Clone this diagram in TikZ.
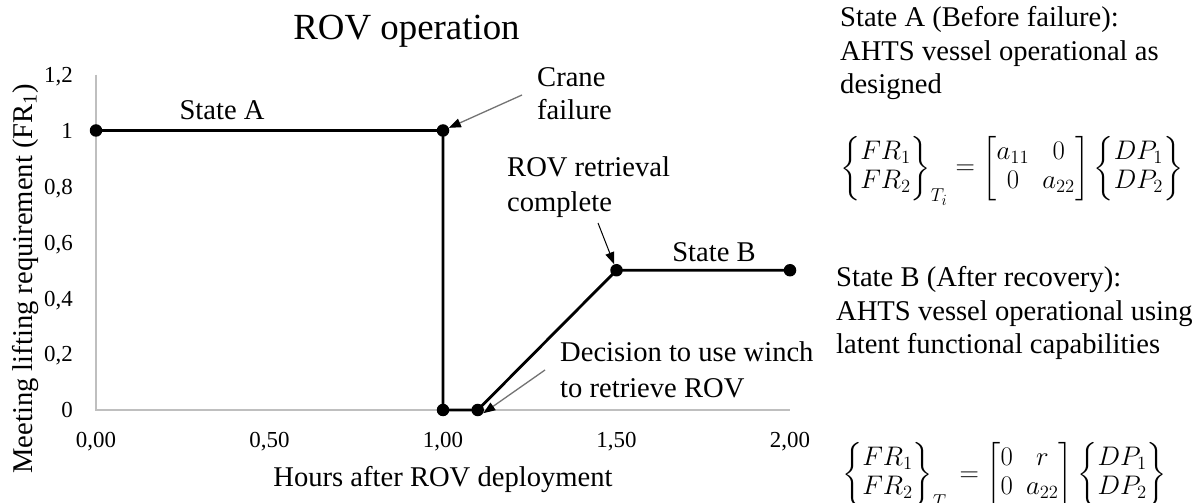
\documentclass[tikz,border=0pt]{standalone}
\usepackage{fontspec}
\setmainfont{Liberation Serif}
\usepackage{amsmath}
\usepackage{graphicx}
\usetikzlibrary{arrows.meta}
\newcommand{\eqscale}[1]{\scalebox{1.3}{\fontsize{20.74}{22.5}\selectfont\setlength{\arraycolsep}{5bp}\delimitershortfall=9pt #1}}
\begin{document}
\begin{tikzpicture}[x=1bp,y=-1bp,
  axisline/.style={draw=black!25, line width=1.3bp},
  dataline/.style={draw=black, line width=2.8bp, line join=miter},
  dot/.style={circle, fill=black, inner sep=0pt, minimum size=12.5bp},
  ticklbl/.style={font=\fontsize{23}{27}\selectfont, inner sep=0pt},
  lbl/.style={font=\fontsize{28.7}{34}\selectfont, inner sep=0pt},
  ttl/.style={font=\fontsize{37}{44}\selectfont, inner sep=0pt},
  eqn/.style={inner sep=0pt},
  grayarrow/.style={draw=black!55, line width=1.3bp, -{Triangle[length=12bp,width=9bp,color=black]}},
  blackarrow/.style={draw=black, line width=1bp, -{Triangle[length=12bp,width=9bp]}},
]
\fill[white] (0,0) rectangle (1203,503);
\useasboundingbox (0,0) rectangle (1203,503);

% axes
\coordinate (ytop) at (96,74.6);
\coordinate (orig) at (96,410);
\coordinate (xend) at (790,410);
\draw[axisline] (ytop) -- (orig) -- (xend);

% y tick labels
\foreach \v/\t [count=\i] in {0/0,0.2/{0,2},0.4/{0,4},0.6/{0,6},0.8/{0,8},1/1,1.2/{1,2}}
  \node[ticklbl, anchor=base east] (yt\i) at (73,{410-279.5*\v+7.8}) {\t};
% x tick labels
\foreach \h/\t [count=\i] in {0/{0,00},0.5/{0,50},1/{1,00},1.5/{1,50},2/{2,00}}
  \node[ticklbl, anchor=base] (xt\i) at ({96+347*\h},447) {\t};

% axis titles
\node[ttl, anchor=base] (title) at (406.5,40) {ROV operation};
\node[lbl, anchor=base] (xtitle) at (443,486) {Hours after ROV deployment};
\node[lbl, anchor=base, rotate=90] (ytitle) at (32,279) {Meeting lifting requirement (FR\textsubscript{1})};

% data
\node[dot] (p0) at (96,130.5) {};
\node[dot] (p1) at (443,130.5) {};
\node[dot] (p2) at (443,410) {};
\node[dot] (p3) at (477.7,410) {};
\node[dot] (p4) at (616.5,270.25) {};
\node[dot] (p5) at (790,270.25) {};
\draw[dataline] (p0.center) -- (p1.center) -- (p2.center) -- (p3.center) -- (p4.center) -- (p5.center);

% state labels
\node[lbl, anchor=base] (stA) at (222,120) {State A};
\node[lbl, anchor=base] (stB) at (714,262) {State B};

% annotations
\node[lbl, anchor=base west] (crane1) at (537,87) {Crane};
\node[lbl, anchor=base west] (crane2) at (537,120) {failure};
\coordinate (craneS) at (522,95);
\draw[grayarrow] (craneS) -- (p1);

\node[lbl, anchor=base west] (rov1) at (507,177) {ROV retrieval};
\node[lbl, anchor=base west] (rov2) at (507,212) {complete};
\coordinate (rovS) at (598,223);
\draw[blackarrow] (rovS) -- (p4);

\node[lbl, anchor=base west] (dec1) at (560,362) {Decision to use winch};
\node[lbl, anchor=base west] (dec2) at (560,397) {to retrieve ROV};
\coordinate (decS) at (545,370);
\draw[grayarrow] (decS) -- (p3.-30);

% right text
\node[lbl, anchor=base west] (sa1) at (840,27) {State A (Before failure):};
\node[lbl, anchor=base west] (sa2) at (840,61) {AHTS vessel operational as};
\node[lbl, anchor=base west] (sa3) at (840,94) {designed};
\node[eqn, anchor=base west] (eqA) at (840,175) {\eqscale{%
  $\left\{\begin{matrix}FR_1\\FR_2\end{matrix}\right\}_{T_i}=\begin{bmatrix}a_{11}&0\\0&a_{22}\end{bmatrix}\left\{\begin{matrix}DP_1\\DP_2\end{matrix}\right\}$}};

\node[lbl, anchor=base west] (sb1) at (836,287) {State B (After recovery):};
\node[lbl, anchor=base west] (sb2) at (836,321) {AHTS vessel operational using};
\node[lbl, anchor=base west] (sb3) at (836,354) {latent functional capabilities};
\node[eqn, anchor=base west] (eqB) at (842,481) {\eqscale{%
  $\left\{\begin{matrix}FR_1\\FR_2\end{matrix}\right\}_{T_r}=\begin{bmatrix}0&r\\0&a_{22}\end{bmatrix}\left\{\begin{matrix}DP_1\\DP_2\end{matrix}\right\}$}};
\end{tikzpicture}
\end{document}
